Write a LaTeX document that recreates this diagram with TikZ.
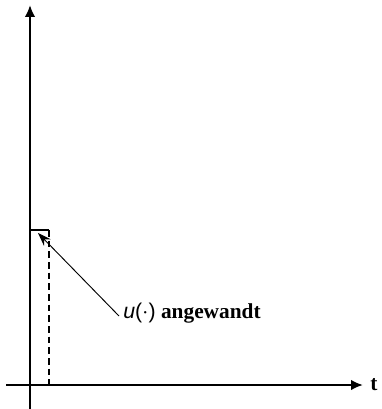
\documentclass[tikz,border=0pt]{standalone}
\usepackage{fontspec}
\setmainfont{Liberation Serif}
\setsansfont{Liberation Sans}
\usetikzlibrary{arrows.meta}
\begin{document}
\begin{tikzpicture}[x=0.75pt,y=-0.75pt,
  axis/.style={line width=1.8pt,-{Latex[length=9pt,width=8pt]}},
  stepline/.style={line width=1.3pt},
  pointer/.style={line width=0.7pt,-{Stealth[length=10pt,width=7pt]}},
  lbl/.style={font=\fontsize{16}{18}\selectfont, inner sep=0pt}]
\useasboundingbox (0,0) rectangle (381,409);
\coordinate (ybot) at (30,409);
\coordinate (ytop) at (30,5);
\coordinate (xleft) at (6,385);
\coordinate (xright) at (363,385);
\draw[axis] (ybot) -- (ytop);
\draw[axis] (xleft) -- (xright);
\node[lbl, anchor=west] (t) at (370,385) {\textbf{t}};
\coordinate (s0) at (30,230);
\coordinate (s1) at (49,230);
\coordinate (s2) at (49,385);
\draw[stepline] (s0) -- (s1);
\draw[stepline, dash pattern=on 5pt off 3pt] (s1) -- (s2);
\node[lbl, anchor=west] (lab) at (123,313) {{\sffamily\itshape u}{\sffamily(\(\cdot\))} \textbf{angewandt}};
\coordinate (tip) at (38,233);
\coordinate (tail) at (119,316);
\draw[pointer] (tail) -- (tip);
\end{tikzpicture}
\end{document}
